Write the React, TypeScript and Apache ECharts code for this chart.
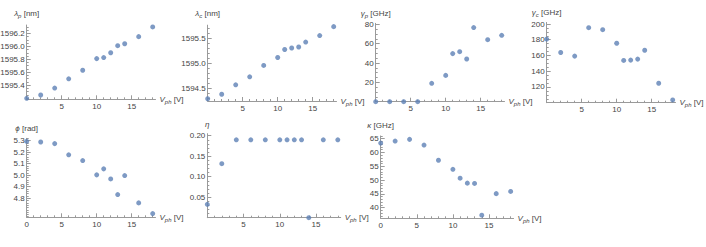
import React, { useEffect, useRef } from "react";
import * as echarts from "echarts";

// ---- data ----
const vph = [0, 2, 4, 6, 8, 10, 11, 12, 13, 14, 16, 18];
const lambdaP = [1595.195, 1595.246, 1595.354, 1595.497, 1595.63, 1595.81, 1595.826, 1595.9, 1596.01, 1596.04, 1596.15, 1596.3];
const lambdaC = [1594.29, 1594.38, 1594.57, 1594.73, 1594.96, 1595.12, 1595.28, 1595.31, 1595.33, 1595.43, 1595.56, 1595.74];
const gammaP = [0, 0, 0, 0, 19, 27.2, 49.7, 51.7, 44.1, 76.6, 64.1, 68.6];
const gammaC = [180.8, 163.8, 159.2, 195.3, 192.8, 175.5, 153.7, 154.1, 155.4, 166.6, 124.7, 103.5];
const phi = [5.294, 5.288, 5.274, 5.177, 5.127, 5.003, 5.055, 4.968, 4.832, 4.997, 4.76, 4.667];
const eta = [0.0325, 0.1317, 0.19, 0.19, 0.19, 0.19, 0.19, 0.19, 0.19, 0, 0.19, 0.19];
const kappa = [63.4, 64.15, 64.76, 62.7, 57.2, 53.9, 50.7, 48.9, 48.8, 37.3, 45.1, 45.9];

// tick labels
const ticksLambdaP = [1595.4, 1595.6, 1595.8, 1596.0, 1596.2];
const ticksLambdaC = [1594.5, 1595.0, 1595.5];
const ticksGammaP = [20, 40, 60, 80];
const ticksGammaC = [120, 140, 160, 180, 200];
const ticksPhi = [4.8, 4.9, 5.0, 5.1, 5.2, 5.3];
const ticksEta = [0.05, 0.1, 0.15, 0.2];
const ticksKappa = [40, 45, 50, 55, 60, 65];
const xTicks = [5, 10, 15];
const xTicksWithZero = [0, 5, 10, 15];

const BLUE = "#5E81B5";
const AXIS = "#9a9a9a";
const LABEL = "#444";
const FONT = "Liberation Sans, Arial, sans-serif";

type Panel = {
  name: string;
  values: number[];
  yTicks: number[];
  minorStep: number;
  decimals: number;
  xLabels: number[];
  // layout
  left: number; axisY: number; xpx: number; xMax: number;
  yMin: number; yMax: number; ypx: number; nameGap: number;
};

const panels: Panel[] = [
  { name: "{i|λ}{s|p} [nm]", values: lambdaP, yTicks: ticksLambdaP, minorStep: 0.05, decimals: 1, xLabels: xTicks,
    left: 26.7, axisY: 99.3, xpx: 7, xMax: 18.4, yMin: 1595.18, yMax: 1596.33, ypx: 64.6, nameGap: 6 },
  { name: "{i|λ}{s|c} [nm]", values: lambdaC, yTicks: ticksLambdaC, minorStep: 0.1, decimals: 1, xLabels: xTicks,
    left: 207.7, axisY: 101, xpx: 7, xMax: 18.4, yMin: 1594.244, yMax: 1595.77, ypx: 49.7, nameGap: 6 },
  { name: "{i|γ}{s|p} [GHz]", values: gammaP, yTicks: ticksGammaP, minorStep: 5, decimals: 0, xLabels: xTicks,
    left: 375.7, axisY: 101.7, xpx: 7, xMax: 18.4, yMin: 0, yMax: 81, ypx: 0.9675, nameGap: 4 },
  { name: "{i|γ}{s|c} [GHz]", values: gammaC, yTicks: ticksGammaC, minorStep: 5, decimals: 0, xLabels: xTicks,
    left: 546.7, axisY: 102.7, xpx: 7, xMax: 18.4, yMin: 100, yMax: 202, ypx: 0.787, nameGap: 4 },
  { name: "{i|ϕ} [rad]", values: phi, yTicks: ticksPhi, minorStep: 0.02, decimals: 1, xLabels: xTicksWithZero,
    left: 26.7, axisY: 217.3, xpx: 7, xMax: 18.4, yMin: 4.635, yMax: 5.32, ypx: 115.3, nameGap: 4 },
  { name: "{i|η}", values: eta, yTicks: ticksEta, minorStep: 0.01, decimals: 2, xLabels: xTicks,
    left: 207.3, axisY: 217.7, xpx: 7.25, xMax: 18.4, yMin: 0, yMax: 0.205, ypx: 410, nameGap: 4 },
  { name: "{i|κ} [GHz]", values: kappa, yTicks: ticksKappa, minorStep: 1, decimals: 0, xLabels: xTicksWithZero,
    left: 380.7, axisY: 218.3, xpx: 7.22, xMax: 18.4, yMin: 36.16, yMax: 66, ypx: 2.76, nameGap: 5 },
];

const richName = {
  i: { fontStyle: "italic", fontSize: 8, fontFamily: FONT, color: LABEL, lineHeight: 11, verticalAlign: "middle" },
  s: { fontStyle: "italic", fontSize: 6, fontFamily: FONT, color: LABEL, lineHeight: 6, verticalAlign: "bottom" },
  n: { fontSize: 8, fontFamily: FONT, color: LABEL },
};

function range(min: number, max: number, step: number, exclude: number[]): number[] {
  const out: number[] = [];
  const start = Math.ceil(min / step - 1e-9);
  const end = Math.floor(max / step + 1e-9);
  for (let k = start; k <= end; k++) {
    const v = +(k * step).toFixed(6);
    if (!exclude.some((e) => Math.abs(e - v) < step / 10)) out.push(v);
  }
  return out;
}

function buildOption() {
  const grid: any[] = [];
  const xAxis: any[] = [];
  const yAxis: any[] = [];
  const series: any[] = [];
  panels.forEach((p, idx) => {
    const height = (p.yMax - p.yMin) * p.ypx;
    grid.push({
      left: p.left, top: p.axisY - height, width: p.xMax * p.xpx, height,
      outerBoundsMode: "none", containLabel: false,
    });
    const xMinor = range(0, p.xMax, 1, [0, 5, 10, 15]);
    const yMinor = range(p.yMin, p.yMax, p.minorStep, p.yTicks);
    // major x
    xAxis.push({
      type: "value", gridIndex: idx, min: 0, max: p.xMax, position: "bottom",
      name: "{i|V}{s|ph} [V]", nameLocation: "end", nameGap: 4,
      nameTextStyle: { fontSize: 8, fontFamily: FONT, color: LABEL, rich: richName, verticalAlign: "middle" },
      axisLine: { show: true, onZero: false, lineStyle: { color: AXIS, width: 1 } },
      axisTick: { show: true, inside: true, length: 4, customValues: p.xLabels, lineStyle: { color: AXIS } },
      axisLabel: { show: true, customValues: p.xLabels, fontSize: 8, fontFamily: FONT, color: LABEL, margin: 3 },
      splitLine: { show: false },
    });
    // minor x
    xAxis.push({
      type: "value", gridIndex: idx, min: 0, max: p.xMax, position: "bottom",
      axisLine: { show: false },
      axisTick: { show: true, inside: true, length: 2, customValues: xMinor, lineStyle: { color: AXIS } },
      axisLabel: { show: false },
      splitLine: { show: false },
    });
    // major y
    yAxis.push({
      type: "value", gridIndex: idx, min: p.yMin, max: p.yMax, position: "left",
      name: p.name, nameLocation: "end", nameGap: p.nameGap,
      nameTextStyle: { fontSize: 8, fontFamily: FONT, color: LABEL, rich: richName, align: "center" },
      axisLine: { show: true, onZero: false, lineStyle: { color: AXIS, width: 1 } },
      axisTick: { show: true, inside: true, length: 4, customValues: p.yTicks, lineStyle: { color: AXIS } },
      axisLabel: {
        show: true, customValues: p.yTicks, fontSize: 8, fontFamily: FONT, color: LABEL, margin: 2,
        formatter: (v: number) => v.toFixed(p.decimals),
      },
      splitLine: { show: false },
    });
    // minor y
    yAxis.push({
      type: "value", gridIndex: idx, min: p.yMin, max: p.yMax, position: "left",
      axisLine: { show: false },
      axisTick: { show: true, inside: true, length: 2, customValues: yMinor, lineStyle: { color: AXIS } },
      axisLabel: { show: false },
      splitLine: { show: false },
    });
    series.push({
      type: "scatter",
      xAxisIndex: idx * 2,
      yAxisIndex: idx * 2,
      symbol: "circle",
      symbolSize: 5,
      itemStyle: { color: BLUE },
      data: vph.map((x, i) => [x, p.values[i]]),
      clip: false,
      z: 5,
    });
  });
  return { animation: false, backgroundColor: "#fff", grid, xAxis, yAxis, series };
}

export default function App() {
  const ref = useRef<HTMLDivElement>(null);
  useEffect(() => {
    if (!ref.current) return;
    const chart = echarts.init(ref.current, undefined, { renderer: "svg" });
    chart.setOption(buildOption() as any);
    return () => chart.dispose();
  }, []);
  return (
    <div
      ref={ref}
      style={{ position: "absolute", left: 0, top: 0, width: 706, height: 247, background: "#fff" }}
    />
  );
}
